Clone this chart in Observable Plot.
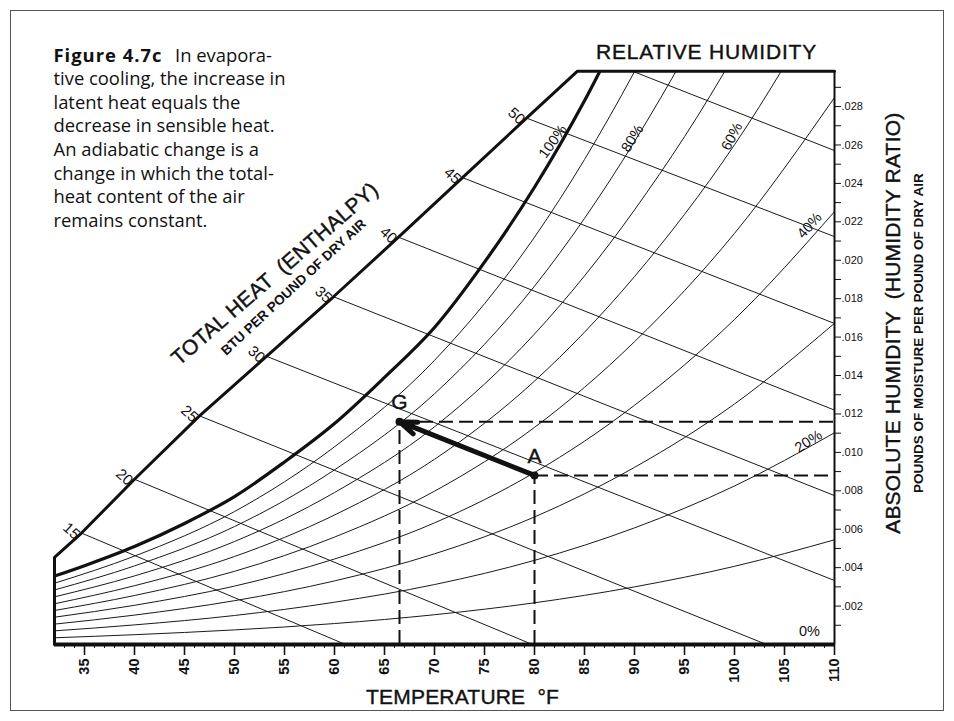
<!DOCTYPE html>
<html>
<head>
<meta charset="utf-8">
<script src="https://cdn.jsdelivr.net/npm/d3@7"></script>
<script src="https://cdn.jsdelivr.net/npm/@observablehq/plot@0.6"></script>
<style>
  html, body { margin: 0; padding: 0; background: #fff; }
  #wrap { position: relative; width: 954px; height: 721px; overflow: hidden; background: #fff; }
  #chart { position: absolute; left: 0; top: 0; }
  #border { position: absolute; left: 10px; top: 10px; width: 934px; height: 701px; border: 1px solid #555; box-sizing: border-box; pointer-events: none; }
  #caption { position: absolute; left: 53.5px; top: 42.8px; font-family: "Open Sans", Lato, sans-serif; font-size: 18.4px; line-height: 23.57px; color: #111; white-space: nowrap; }
  #caption b { font-weight: 700; letter-spacing: 1px; }
  #caption .l1 { position: absolute; left: 121.5px; top: 0; }
</style>
</head>
<body>
<div id="wrap">
  <div id="chart"></div>
  <div id="caption"></div>
  <div id="border"></div>
</div>
<script>
// ---------- data ----------
const tempDomain = [32, 110];
const humidityTop = 0.02984;

// saturation (100% RH) curve
const satTemps = [32, 35, 40, 45, 50, 55, 60, 65, 70, 75, 80, 85, 90];
const satW = [0.00356, 0.0041, 0.0051, 0.0063, 0.0077, 0.0095, 0.0115, 0.0139, 0.0165, 0.0199, 0.0238, 0.0283, 0.0335];

// thin relative humidity curves
const rhLevels = [10, 20, 30, 40, 50, 60, 70, 80, 90];
const rhTemps = [32, 40, 50, 60, 70, 80, 90, 100, 110];
const rh10 = [0.00035, 0.00051, 0.00076, 0.00109, 0.00155, 0.00217, 0.00300, 0.00407, 0.00545];
const rh20 = [0.00071, 0.00102, 0.00151, 0.00220, 0.00312, 0.00438, 0.00607, 0.00825, 0.01102];
const rh30 = [0.00106, 0.00153, 0.00228, 0.00331, 0.00472, 0.00664, 0.00922, 0.01252, 0.01672];
const rh40 = [0.00142, 0.00204, 0.00304, 0.00445, 0.00633, 0.00895, 0.01245, 0.01692, 0.02253];
const rh50 = [0.00177, 0.00255, 0.00381, 0.00559, 0.00798, 0.01130, 0.01576, 0.02140, 0.02847];
const rh60 = [0.00212, 0.00306, 0.00458, 0.00674, 0.00964, 0.01371, 0.01915, 0.02601, 0.03455];
const rh70 = [0.00248, 0.00357, 0.00536, 0.00791, 0.01133, 0.01616, 0.02262, 0.03072, 0.04100];
const rh80 = [0.00284, 0.00409, 0.00614, 0.00909, 0.01305, 0.01865, 0.02618, 0.03555, 0.04700];
const rh90 = [0.00319, 0.00460, 0.00692, 0.01029, 0.01479, 0.02120, 0.02982, 0.04050, 0.05300];
const rhSeries = [rh10, rh20, rh30, rh40, rh50, rh60, rh70, rh80, rh90];

// total heat (enthalpy) scale and lines
const enthalpyValues = [15, 20, 25, 30, 35, 40, 45, 50, 55];
const enthalpyStartT = [34.7, 40.0, 46.5, 53.2, 59.9, 66.4, 72.8, 79.2, 89.8];
const enthalpyStartW = [0.0058, 0.0086, 0.0119, 0.0150, 0.0181, 0.0212, 0.0243, 0.0274, 0.02984];
const enthalpyEndT = [61.1, 79.8, 103.2, 110, 110, 110, 110, 110, 110];
const enthalpyEndW = [0, 0, 0, 0.00333, 0.00775, 0.0122, 0.01671, 0.02123, 0.02571];
const enthalpyLabelled = [15, 20, 25, 30, 35, 40, 45, 50];
const leftEdgeTopW = 0.00454;
const scaleCornerT = 84.3;

// process points
const pointNames = ["A", "G"];
const pointT = [80, 66.5];
const pointW = [0.0088, 0.0116];

// RH labels
const rhLabelText = ["100%", "80%", "60%", "40%", "20%", "0%"];
const rhLabelT = [81.85, 89.8, 99.75, 107.5, 107.4, 107.5];
const rhLabelW = [0.02618, 0.02634, 0.02644, 0.02181, 0.01057, 0.00068];

// ticks
const tempTickLabels = [35, 40, 45, 50, 55, 60, 65, 70, 75, 80, 85, 90, 95, 100, 105, 110];
const tempMinorTicks = d3.range(33, 110).filter(t => t % 5 !== 0);
const humidityTickLabels = [0.002, 0.004, 0.006, 0.008, 0.010, 0.012, 0.014, 0.016, 0.018, 0.020, 0.022, 0.024, 0.026, 0.028];
const humidityMinorTicks = [0.001, 0.003, 0.005, 0.007, 0.009, 0.011, 0.013, 0.015, 0.017, 0.019, 0.021, 0.023, 0.025, 0.027, 0.029];

// texts
const captionBold = "Figure 4.7c";
const captionLines = ["In evapora-", "tive cooling, the increase in", "latent heat equals the", "decrease in sensible heat.", "An adiabatic change is a", "change in which the total-", "heat content of the air", "remains constant."];
const titleRH = "RELATIVE HUMIDITY";
const titleTemp = "TEMPERATURE  °F";
const titleAbs = "ABSOLUTE HUMIDITY  (HUMIDITY RATIO)";
const subtitleAbs = "POUNDS OF MOISTURE PER POUND OF DRY AIR";
const titleHeat = "TOTAL HEAT  (ENTHALPY)";
const subtitleHeat = "BTU PER POUND OF DRY AIR";

// ---------- build tables ----------
const satRows = satTemps.map((T, i) => ({T, W: satW[i]}));
const rhRows = rhLevels.flatMap((rh, i) => rhTemps.map((T, j) => ({rh, T, W: rhSeries[i][j]})));
const enthalpyRows = enthalpyValues.map((h, i) => ({h, T1: enthalpyStartT[i], W1: enthalpyStartW[i], T2: enthalpyEndT[i], W2: enthalpyEndW[i]}));
const enthalpyLabelRows = enthalpyRows.filter(d => enthalpyLabelled.includes(d.h));
const boundaryRows = [
  {T: tempDomain[0], W: 0},
  {T: tempDomain[0], W: leftEdgeTopW},
  ...enthalpyLabelRows.map(d => ({T: d.T1, W: d.W1})),
  {T: scaleCornerT, W: humidityTop},
  {T: tempDomain[1], W: humidityTop}
];
const points = pointNames.map((name, i) => ({name, T: pointT[i], W: pointW[i]}));
const pA = points[0], pG = points[1];
const rhLabelRows = rhLabelText.map((label, i) => ({label, T: rhLabelT[i], W: rhLabelW[i]}));
const rhRot = {"100%": -54, "80%": -58, "60%": -62, "40%": -48, "20%": -33, "0%": 0};

const font = "Liberation Sans, Arial, Helvetica, sans-serif";
const heavy = {fill: "#111", stroke: "#111", strokeWidth: 0.4, paintOrder: "stroke"};

const chart = Plot.plot({
  width: 954,
  height: 721,
  marginLeft: 54,
  marginRight: 120,
  marginTop: 70.7,
  marginBottom: 77,
  style: {fontFamily: font, background: "transparent", color: "#111", overflow: "visible"},
  x: {domain: tempDomain, label: null},
  y: {domain: [0, humidityTop], label: null},
  marks: [
    // thin RH curves
    Plot.line(rhRows, {x: "T", y: "W", z: "rh", curve: "monotone-x", stroke: "#1a1a1a", strokeWidth: 1, clip: true}),
    // enthalpy lines
    Plot.link(enthalpyRows, {x1: "T1", y1: "W1", x2: "T2", y2: "W2", stroke: "#1a1a1a", strokeWidth: 1}),
    // dashed guides
    Plot.ruleX(points, {x: "T", y1: 0, y2: "W", strokeWidth: 2, strokeDasharray: "14,6"}),
    Plot.ruleY(points, {y: "W", x1: "T", x2: tempDomain[1], strokeWidth: 2, strokeDasharray: "14,6"}),
    // saturation curve
    Plot.line(satRows, {x: "T", y: "W", curve: "catmull-rom", strokeWidth: 3.2, clip: true}),
    // chart boundary
    Plot.line(boundaryRows, {x: "T", y: "W", strokeWidth: 3, strokeLinejoin: "miter"}),
    Plot.ruleX([tempDomain[1]], {y1: 0, y2: humidityTop, strokeWidth: 2}),
    Plot.ruleY([0], {x1: tempDomain[0], x2: tempDomain[1], strokeWidth: 4}),
    // axes
    Plot.axisX({ticks: tempMinorTicks, tickSize: 4, tickFormat: () => "", label: null}),
    Plot.axisX({ticks: tempTickLabels, tickSize: 11, strokeWidth: 1.6, tickFormat: () => "", label: null}),
    Plot.text(tempTickLabels, {x: d => d, frameAnchor: "bottom", dy: 14, rotate: -90, textAnchor: "end", lineAnchor: "middle", fontSize: 14.5, fontWeight: "bold"}),
    Plot.axisY({anchor: "right", ticks: humidityMinorTicks, tickSize: 6, tickFormat: () => "", label: null}),
    Plot.axisY({anchor: "right", ticks: humidityTickLabels, tickSize: 6, tickPadding: 1, tickFormat: d => d.toFixed(3).replace(/^0/, ""), fontSize: 11, label: null}),
    // process arrow and points
    Plot.arrow([{a: pA, g: pG}], {x1: d => d.a.T, y1: d => d.a.W, x2: d => d.g.T, y2: d => d.g.W, strokeWidth: 5, headAngle: 40, headLength: 5.5}),
    Plot.dot(points, {x: "T", y: "W", r: 4, fill: "#111"}),
    Plot.text(points, {x: "T", y: "W", text: "name", dy: -19, fontSize: 21, lineAnchor: "middle", ...heavy}),
    // labels
    Plot.text(enthalpyLabelRows, {x: "T1", y: "W1", text: d => String(d.h), dx: -10, dy: -2, rotate: 42, fontSize: 15, lineAnchor: "middle"}),
    Plot.text(rhLabelRows, {x: "T", y: "W", text: "label", rotate: d => rhRot[d.label], fontSize: 14.5, lineAnchor: "middle"}),
    // titles
    Plot.text([titleRH], {text: d => d, frameAnchor: "top-left", dx: 652, dy: -12.4, textAnchor: "middle", lineAnchor: "bottom", fontSize: 21, ...heavy}),
    Plot.text([titleTemp], {text: d => d, frameAnchor: "bottom-left", dx: 408, dy: 59, textAnchor: "middle", lineAnchor: "bottom", fontSize: 21, ...heavy}),
    Plot.text([titleAbs], {text: d => d, frameAnchor: "top-right", dx: 59, dy: 252, rotate: -90, textAnchor: "middle", lineAnchor: "middle", fontSize: 21, ...heavy}),
    Plot.text([subtitleAbs], {text: d => d, frameAnchor: "top-right", dx: 84, dy: 262, rotate: -90, textAnchor: "middle", lineAnchor: "middle", fontSize: 13.5, fontWeight: "bold"}),
    Plot.text([titleHeat], {text: d => d, frameAnchor: "top-left", dx: 220.5, dy: 202.8, rotate: -41, textAnchor: "middle", lineAnchor: "middle", fontSize: 21, ...heavy}),
    Plot.text([subtitleHeat], {text: d => d, frameAnchor: "top-left", dx: 239, dy: 216, rotate: -43, textAnchor: "middle", lineAnchor: "middle", fontSize: 13.5, fontWeight: "bold"})
  ]
});
document.getElementById("chart").appendChild(chart);

// letter spacing for the wide axis titles
const spacing = new Map([[titleRH, "0.8px"], [titleTemp, "0.2px"], [titleAbs, "0.2px"], [titleHeat, "0.2px"]]);
d3.select(chart).selectAll("text").each(function () {
  const s = spacing.get(this.textContent);
  if (s) this.style.letterSpacing = s;
});

// caption
const cap = document.getElementById("caption");
cap.innerHTML = `<div><b>${captionBold}</b><span class="l1">${captionLines[0]}</span></div>` +
  captionLines.slice(1).map(l => `<div>${l}</div>`).join("");
</script>
</body>
</html>
